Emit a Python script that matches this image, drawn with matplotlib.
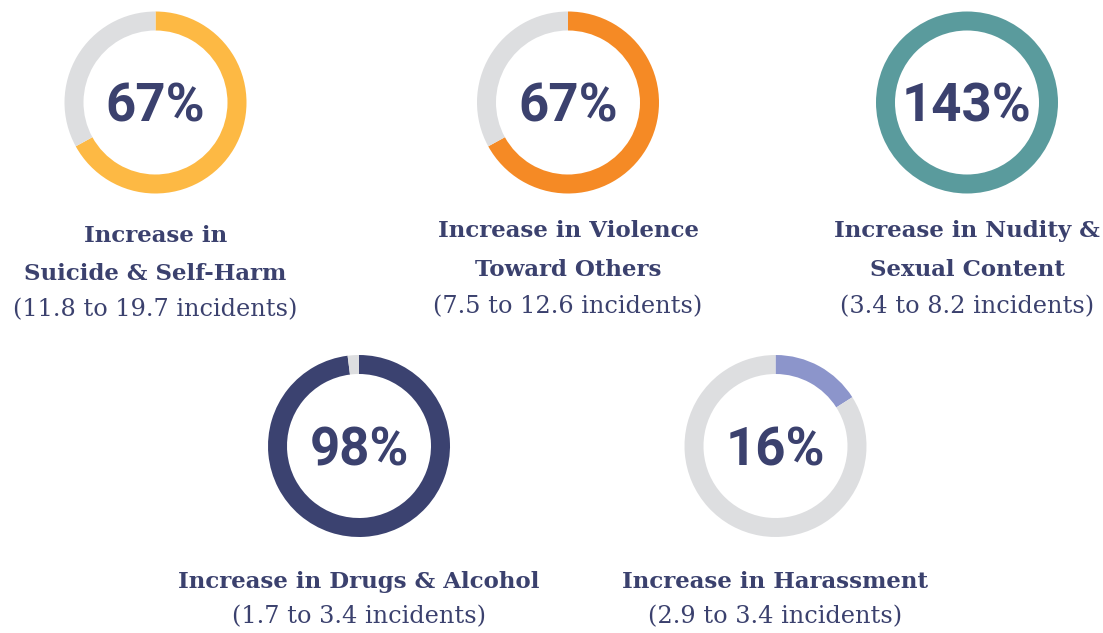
import matplotlib.pyplot as plt

W, H = 1103, 633

# data
pcts = [67, 67, 143, 98, 16]
pct_labels = ["67%", "67%", "143%", "98%", "16%"]
titles = [
    ["Increase in", "Suicide & Self-Harm"],
    ["Increase in Violence", "Toward Others"],
    ["Increase in Nudity &", "Sexual Content"],
    ["Increase in Drugs & Alcohol"],
    ["Increase in Harassment"],
]
ranges = [
    "(11.8 to 19.7 incidents)",
    "(7.5 to 12.6 incidents)",
    "(3.4 to 8.2 incidents)",
    "(1.7 to 3.4 incidents)",
    "(2.9 to 3.4 incidents)",
]
colors = ["#FDB944", "#F58A25", "#5A9B9D", "#3B4270", "#8C95CB"]

# layout (pixels from top-left)
centers = [(155.5, 102.5), (568, 102.5), (967, 102.5), (359, 446), (775.5, 446)]
R = 91
ring = 19
title_base = [[242, 280], [237, 276], [237, 276], [588], [588]]
range_base = [316, 313, 313, 623, 623]

gray = "#DDDEE0"
navy = "#3B416E"

fig = plt.figure(figsize=(W / 100, H / 100), dpi=100)
fig.patch.set_facecolor("white")

def fy(y):
    return 1 - y / H

for i, p in enumerate(pcts):
    cx, cy = centers[i]
    ax = fig.add_axes([(cx - R) / W, (H - cy - R) / H, 2 * R / W, 2 * R / H])
    filled = min(p, 100)
    ax.pie([filled, 100 - filled], colors=[colors[i], gray], startangle=90,
           counterclock=False, radius=1,
           wedgeprops=dict(width=ring / R, edgecolor="none", linewidth=0))
    ax.set_xlim(-1, 1)
    ax.set_ylim(-1, 1)
    ax.axis("off")
    ax.text(0, -19.5 / R, pct_labels[i], ha="center", va="baseline",
            fontsize=38, fontfamily="Roboto", fontweight="bold", color=navy)

    for line, yb in zip(titles[i], title_base[i]):
        fig.text(cx / W, fy(yb), line, ha="center", va="baseline",
                 fontsize=16.5, fontfamily="DejaVu Serif", fontweight="bold",
                 color=navy)
    fig.text(cx / W, fy(range_base[i]), ranges[i], ha="center", va="baseline",
             fontsize=17.3, fontfamily="DejaVu Serif", color=navy)

fig.savefig("out.png", dpi=100, facecolor="white")
